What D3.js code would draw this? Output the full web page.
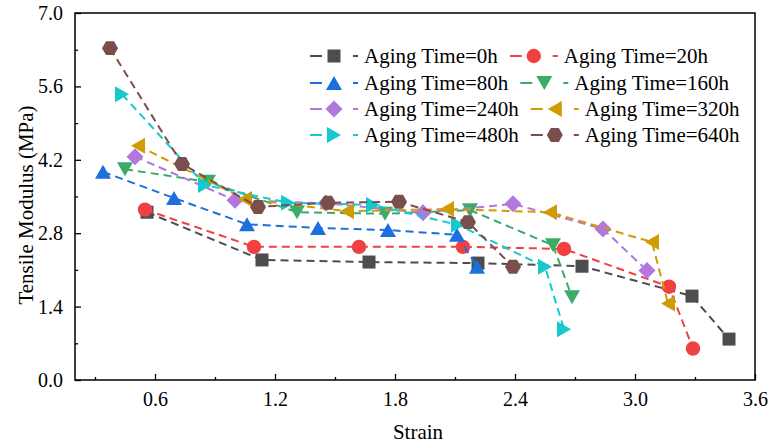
<!DOCTYPE html>
<html>
<head>
<meta charset="utf-8">
<script src="https://cdn.jsdelivr.net/npm/d3@7"></script>
<style>
  html, body { margin: 0; padding: 0; background: #fff; }
  svg { display: block; }
  text { font-family: "Liberation Serif", "Times New Roman", serif; fill: #000; }
</style>
</head>
<body>
<svg id="chart" width="769" height="448"></svg>
<script>
// ---- data ----
const seriesNames = ["Aging Time=0h", "Aging Time=20h", "Aging Time=80h", "Aging Time=160h",
                     "Aging Time=240h", "Aging Time=320h", "Aging Time=480h", "Aging Time=640h"];
const strain0h   = [0.56, 1.135, 1.67, 2.215, 2.735, 3.285, 3.47];
const modulus0h  = [3.20, 2.29, 2.25, 2.23, 2.17, 1.60, 0.78];
const strain20h  = [0.55, 1.095, 1.62, 2.14, 2.645, 3.17, 3.29];
const modulus20h = [3.25, 2.54, 2.54, 2.54, 2.50, 1.78, 0.60];
const strain80h  = [0.34, 0.695, 1.06, 1.415, 1.765, 2.11, 2.21];
const modulus80h = [3.97, 3.47, 2.97, 2.90, 2.86, 2.77, 2.16];
const strain160h  = [0.45, 0.865, 1.31, 1.75, 2.175, 2.59, 2.685];
const modulus160h = [4.02, 3.78, 3.20, 3.17, 3.24, 2.57, 1.58];
const strain240h  = [0.50, 1.00, 1.455, 1.94, 2.39, 2.84, 3.06];
const modulus240h = [4.26, 3.43, 3.37, 3.19, 3.36, 2.88, 2.09];
const strain320h  = [0.515, 1.05, 1.56, 2.06, 2.575, 3.085, 3.165];
const modulus320h = [4.47, 3.45, 3.22, 3.26, 3.20, 2.63, 1.46];
const strain480h  = [0.435, 0.85, 1.265, 1.69, 2.115, 2.55, 2.645];
const modulus480h = [5.45, 3.72, 3.38, 3.34, 2.96, 2.16, 0.97];
const strain640h  = [0.375, 0.735, 1.115, 1.465, 1.82, 2.165, 2.39];
const modulus640h = [6.33, 4.12, 3.30, 3.38, 3.40, 3.01, 2.16];
const xTicks = [0.6, 1.2, 1.8, 2.4, 3.0, 3.6];
const xMinorTicks = [0.3, 0.9, 1.5, 2.1, 2.7, 3.3];
const yTicks = [0.0, 1.4, 2.8, 4.2, 5.6, 7.0];
const yMinorTicks = [0.7, 2.1, 3.5, 4.9, 6.3];
const colors = ["#4d4d4d", "#ef4141", "#1d6fde", "#3aab69", "#b077df", "#d09b03", "#15c9cc", "#7a4e4a"];
const markers = ["square", "circle", "triUp", "triDown", "diamond", "triLeft", "triRight", "hexagon"];

const seriesX = [strain0h, strain20h, strain80h, strain160h, strain240h, strain320h, strain480h, strain640h];
const seriesY = [modulus0h, modulus20h, modulus80h, modulus160h, modulus240h, modulus320h, modulus480h, modulus640h];
const series = seriesNames.map((name, i) => ({
  name, color: colors[i], marker: markers[i],
  points: seriesX[i].map((x, j) => ({ x, y: seriesY[i][j] }))
}));

// ---- layout ----
const svg = d3.select("#chart");
const L = 75, R = 755, T = 13, B = 380;
const x = d3.scaleLinear().domain([0.2, 3.6]).range([L, R]);
const y = d3.scaleLinear().domain([0, 7]).range([B, T]);

function markerPath(type) {
  const poly = pts => "M" + pts.map(p => p.join(",")).join("L") + "Z";
  switch (type) {
    case "square": { const h = 6.5; return poly([[-h,-h],[h,-h],[h,h],[-h,h]]); }
    case "circle": { const r = 7.2; return `M${r},0A${r},${r} 0 1,1 ${-r},0A${r},${r} 0 1,1 ${r},0Z`; }
    case "triUp":    return poly([[0,-7],[8,7],[-8,7]]);
    case "triDown":  return poly([[0,7],[8,-7],[-8,-7]]);
    case "triLeft":  return poly([[-7,0],[7,-8],[7,8]]);
    case "triRight": return poly([[7,0],[-7,-8],[-7,8]]);
    case "diamond":  { const d = 8.5; return poly([[0,-d],[d,0],[0,d],[-d,0]]); }
    case "hexagon": {
      const r = 8; const pts = [];
      for (let k = 0; k < 6; k++) { const a = Math.PI / 3 * k; pts.push([r*Math.cos(a), r*Math.sin(a)]); }
      return poly(pts);
    }
  }
}

// ---- axes ----
const fontSize = 20;
const xAxis = d3.axisBottom(x).tickValues(xTicks).tickFormat(d3.format(".1f")).tickSize(-6).tickPadding(12);
const xMinor = d3.axisBottom(x).tickValues(xMinorTicks).tickFormat("").tickSize(-3);
const yAxis = d3.axisLeft(y).tickValues(yTicks).tickFormat(d3.format(".1f")).tickSize(-6).tickPadding(12);
const yMinor = d3.axisLeft(y).tickValues(yMinorTicks).tickFormat("").tickSize(-3);

function styleAxis(g) {
  g.select(".domain").remove();
  g.selectAll("line").attr("stroke", "#000").attr("stroke-width", 1.3);
  g.selectAll("text").style("font-size", fontSize + "px").style("font-family", '"Liberation Serif", "Times New Roman", serif').attr("fill", "#000");
}
svg.append("g").attr("transform", `translate(0,${B})`).call(xAxis).call(styleAxis);
svg.append("g").attr("transform", `translate(0,${B})`).call(xMinor).call(styleAxis);
svg.append("g").attr("transform", `translate(${L},0)`).call(yAxis).call(styleAxis);
svg.append("g").attr("transform", `translate(${L},0)`).call(yMinor).call(styleAxis);

// frame
svg.append("rect").attr("x", L).attr("y", T).attr("width", R - L).attr("height", B - T)
  .attr("fill", "none").attr("stroke", "#000").attr("stroke-width", 1.5);

// axis titles
svg.append("text").attr("x", (L + R) / 2 + 3).attr("y", 439).attr("text-anchor", "middle")
  .style("font-size", "21px").text("Strain");
svg.append("text").attr("transform", `translate(33,205) rotate(-90)`).attr("text-anchor", "middle")
  .style("font-size", "21px").text("Tensile Modulus (MPa)");

// ---- series ----
const line = d3.line().x(d => x(d.x)).y(d => y(d.y));
const plot = svg.append("g");
series.forEach(s => {
  const g = plot.append("g");
  g.append("path").attr("d", line(s.points)).attr("fill", "none").attr("stroke", s.color)
    .attr("stroke-width", 2).attr("stroke-dasharray", "8,5");
  g.selectAll("path.m").data(s.points).join("path").attr("class", "m")
    .attr("transform", d => `translate(${x(d.x)},${y(d.y)})`)
    .attr("d", markerPath(s.marker)).attr("fill", s.color);
});

// ---- legend ----
const rowsY = [56, 83, 109, 135];
const legend = svg.append("g");
for (let r = 0; r < 4; r++) {
  let cx = 310;
  for (let c = 0; c < 2; c++) {
    const s = series[r * 2 + c];
    const g = legend.append("g");
    g.append("line").attr("x1", cx).attr("x2", cx + 12).attr("y1", rowsY[r]).attr("y2", rowsY[r])
      .attr("stroke", s.color).attr("stroke-width", 2);
    g.append("line").attr("x1", cx + 43).attr("x2", cx + 48).attr("y1", rowsY[r]).attr("y2", rowsY[r])
      .attr("stroke", s.color).attr("stroke-width", 2);
    g.append("path").attr("transform", `translate(${cx + 24},${rowsY[r]})`).attr("d", markerPath(s.marker)).attr("fill", s.color);
    const t = g.append("text").attr("x", cx + 54).attr("y", rowsY[r]).attr("dy", "0.35em")
      .style("font-size", "21px").text(s.name);
    cx = cx + 54 + t.node().getComputedTextLength() + 12;
  }
}
</script>
</body>
</html>
